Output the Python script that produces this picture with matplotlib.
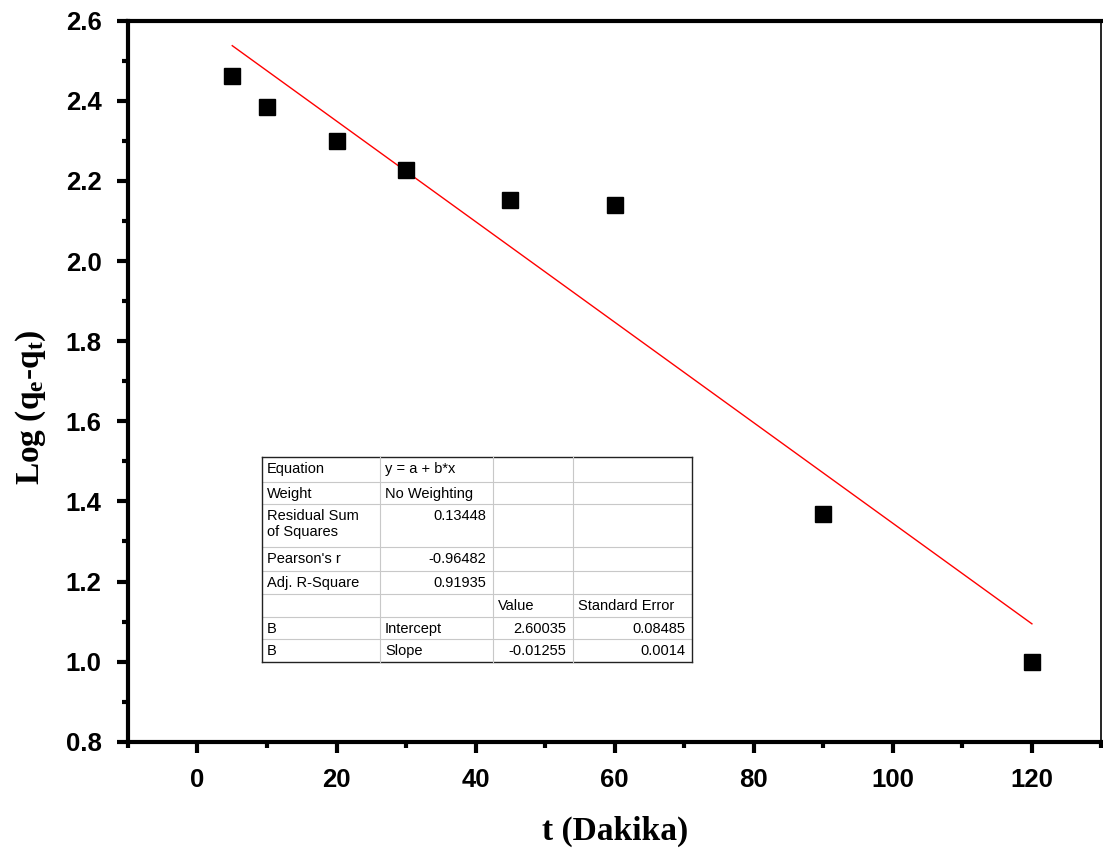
import matplotlib.pyplot as plt
from matplotlib.ticker import MultipleLocator

# data
t_min = [5, 10, 20, 30, 45, 60, 90, 120]
log_qe_qt = [2.462, 2.385, 2.300, 2.228, 2.153, 2.140, 1.368, 1.000]

intercept = 2.60035
slope = -0.01255
fit_x = [5, 120]

table_rows = [
    ['Equation', 'y = a + b*x', '', ''],
    ['Weight', 'No Weighting', '', ''],
    ['Residual Sum\nof Squares', '0.13448', '', ''],
    ["Pearson's r", '-0.96482', '', ''],
    ['Adj. R-Square', '0.91935', '', ''],
    ['', '', 'Value', 'Standard Error'],
    ['B', 'Intercept', '2.60035', '0.08485'],
    ['B', 'Slope', '-0.01255', '0.0014'],
]

plt.rcParams['font.family'] = ['Liberation Sans', 'DejaVu Sans']
plt.rcParams['mathtext.fontset'] = 'custom'
plt.rcParams['mathtext.bf'] = 'Liberation Serif:bold'
plt.rcParams['mathtext.rm'] = 'Liberation Serif'
plt.rcParams['mathtext.it'] = 'Liberation Serif:italic'

fig = plt.figure(figsize=(11.03, 8.58), dpi=100)
ax = fig.add_axes([0.116, 0.1355, 0.8826, 0.8404])

ax.plot(t_min, log_qe_qt, 's', color='black', ms=11.5, zorder=3)
fit_y = [intercept + slope * x for x in fit_x]
ax.plot(fit_x, fit_y, color='red', lw=1.0, zorder=2)

ax.set_xlim(-10, 130)
ax.set_ylim(0.8, 2.6)
ax.xaxis.set_major_locator(MultipleLocator(20))
ax.xaxis.set_minor_locator(MultipleLocator(10))
ax.yaxis.set_major_locator(MultipleLocator(0.2))
ax.yaxis.set_minor_locator(MultipleLocator(0.1))
ax.yaxis.set_major_formatter(plt.FuncFormatter(lambda v, p: f'{v:.1f}'))
ax.xaxis.set_major_formatter(plt.FuncFormatter(lambda v, p: f'{v:.0f}'))

for s in ['left', 'bottom', 'top']:
    ax.spines[s].set_linewidth(3)
ax.spines['right'].set_linewidth(1.2)

ax.tick_params(which='major', direction='out', length=8, width=3,
               labelsize=18.5, pad=11, top=False, right=False)
ax.tick_params(which='minor', direction='out', length=4, width=3,
               top=False, right=False)
for lab in ax.get_xticklabels() + ax.get_yticklabels():
    lab.set_fontweight('bold')

ax.set_xlabel('t (Dakika)', family='Liberation Serif', fontsize=24,
              fontweight='bold', labelpad=17)
ax.set_ylabel(r'Log (q$_\mathbf{e}$-q$_\mathbf{t}$)', family='Liberation Serif',
              fontsize=24, fontweight='bold')
ax.yaxis.set_label_coords(-0.082, 0.464)

# fit result table, drawn in axes coordinates
x_px = [262, 380, 493, 573, 692]
y_px = [457, 482, 504, 547, 571, 594, 617, 639, 662]
ax_l, ax_w = 128, 973.5
ax_b, ax_h = 741.7, 721.0
cx = [(v - ax_l) / ax_w for v in x_px]
cy = [(ax_b - v) / ax_h for v in y_px]

tr = ax.transAxes
for i, yv in enumerate(cy):
    edge = i in (0, len(cy) - 1)
    ax.plot([cx[0], cx[-1]], [yv, yv], transform=tr,
            color='#222222' if edge else '#c8c8c8', lw=1.0 if edge else 0.8, zorder=4)
for j, xv in enumerate(cx):
    edge = j in (0, len(cx) - 1)
    ax.plot([xv, xv], [cy[0], cy[-1]], transform=tr,
            color='#222222' if edge else '#c8c8c8', lw=1.0 if edge else 0.8, zorder=4)

for r, row in enumerate(table_rows):
    top = cy[r]
    for c, txt in enumerate(row):
        if not txt:
            continue
        numeric = txt.lstrip('-')[:1].isdigit()
        if numeric:
            xx, ha = cx[c + 1] - 7 / ax_w, 'right'
        else:
            xx, ha = cx[c] + 5 / ax_w, 'left'
        nl = txt.count('\n')
        yy = top - (12 + 8 * nl) / ax_h
        ax.text(xx, yy, txt, transform=tr, ha=ha, va='center',
                fontsize=10.5, color='black', zorder=5, linespacing=1.15)

fig.savefig('out.png', dpi=100)
